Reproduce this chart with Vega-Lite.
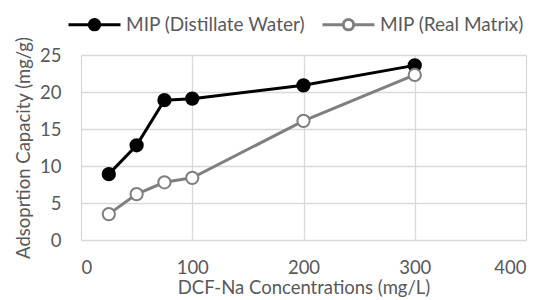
{
  "$schema": "https://vega.github.io/schema/vega-lite/v6.json",
  "width": 445,
  "height": 185,
  "autosize": {"type": "none"},
  "padding": {"left": 81, "top": 55, "right": 17, "bottom": 60},
  "background": "white",
  "config": {
    "font": "Lato",
    "view": {"stroke": null},
    "axis": {
      "labelFont": "Lato", "titleFont": "Lato", "labelFontSize": 18.5, "titleFontSize": 18.5,
      "labelColor": "#595959", "titleColor": "#595959", "titleFontWeight": "normal",
      "gridColor": "#d9d9d9", "gridWidth": 1.3, "ticks": false, "domain": false
    }
  },
  "data": {"values": [
    {"series": "MIP (Distillate Water)", "conc": 25, "cap": 8.9},
    {"series": "MIP (Distillate Water)", "conc": 50, "cap": 12.8},
    {"series": "MIP (Distillate Water)", "conc": 75, "cap": 18.9},
    {"series": "MIP (Distillate Water)", "conc": 100, "cap": 19.1},
    {"series": "MIP (Distillate Water)", "conc": 200, "cap": 20.9},
    {"series": "MIP (Distillate Water)", "conc": 300, "cap": 23.6},
    {"series": "MIP (Real Matrix)", "conc": 25, "cap": 3.5},
    {"series": "MIP (Real Matrix)", "conc": 50, "cap": 6.2},
    {"series": "MIP (Real Matrix)", "conc": 75, "cap": 7.8},
    {"series": "MIP (Real Matrix)", "conc": 100, "cap": 8.4},
    {"series": "MIP (Real Matrix)", "conc": 200, "cap": 16.1},
    {"series": "MIP (Real Matrix)", "conc": 300, "cap": 22.3}
  ]},
  "encoding": {
    "x": {"field": "conc", "type": "quantitative", "scale": {"domain": [0, 400]},
      "axis": {"values": [0, 100, 200, 300, 400], "title": "DCF-Na Concentrations (mg/L)", "labelPadding": 18, "titlePadding": 2}},
    "y": {"field": "cap", "type": "quantitative", "scale": {"domain": [0, 25]},
      "axis": {"values": [0, 5, 10, 15, 20, 25], "title": "Adsoprtion Capacity (mg/g)", "labelPadding": 20, "titlePadding": 6}},
    "color": {"field": "series", "type": "nominal",
      "scale": {"domain": ["MIP (Distillate Water)", "MIP (Real Matrix)"], "range": ["#000000", "#7f7f7f"]},
      "legend": {"orient": "none", "legendX": -14, "legendY": -58, "direction": "horizontal", "title": null,
        "symbolType": "M-1,0H-0.2M0.2,0H1M0.2,0A0.2,0.2 0 1,1 -0.2,0A0.2,0.2 0 1,1 0.2,0Z",
        "symbolSize": 2704, "symbolStrokeWidth": 3, "labelFontSize": 19, "labelColor": "#595959", "labelFont": "Lato",
        "labelOffset": 4, "columnPadding": 10, "labelLimit": 400}}
  },
  "layer": [
    {"mark": {"type": "line", "strokeWidth": 3}},
    {"mark": {"type": "point", "filled": false, "size": 150, "strokeWidth": 2, "opacity": 1},
      "encoding": {"fill": {"field": "series", "type": "nominal",
        "scale": {"domain": ["MIP (Distillate Water)", "MIP (Real Matrix)"], "range": ["#000000", "#ffffff"]},
        "legend": {"orient": "none", "legendX": -14, "legendY": -58, "direction": "horizontal", "title": null,
        "symbolType": "M-1,0H-0.2M0.2,0H1M0.2,0A0.2,0.2 0 1,1 -0.2,0A0.2,0.2 0 1,1 0.2,0Z",
        "symbolSize": 2704, "symbolStrokeWidth": 3, "labelFontSize": 19, "labelColor": "#595959", "labelFont": "Lato",
        "labelOffset": 4, "columnPadding": 10, "labelLimit": 400}}}}
  ]
}
